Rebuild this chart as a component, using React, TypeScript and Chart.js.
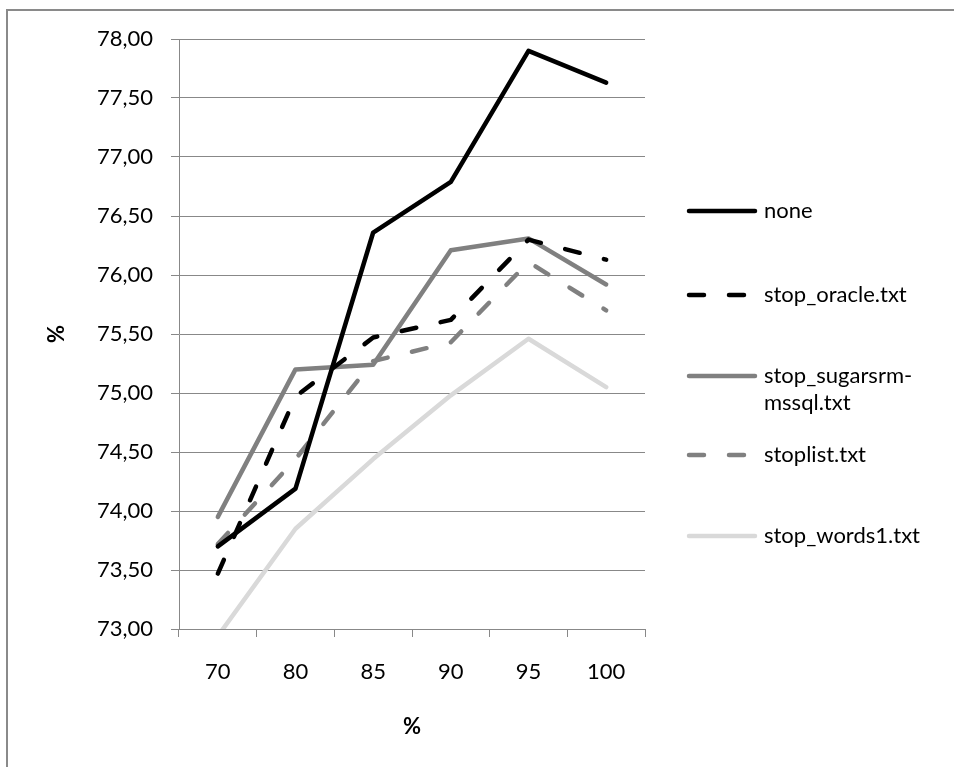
import React, { useEffect, useRef } from 'react';
import { Chart, registerables } from 'chart.js';

Chart.register(...registerables);

// ---- data ----
const categories = ['70', '80', '85', '90', '95', '100'];
const seriesNames = ['none', 'stop_oracle.txt', 'stop_sugarsrm-mssql.txt', 'stoplist.txt', 'stop_words1.txt'];
const noneValues = [73.70, 74.19, 76.36, 76.79, 77.90, 77.63];
const oracleValues = [73.47, 74.97, 75.47, 75.62, 76.30, 76.13];
const sugarsrmValues = [73.95, 75.20, 75.24, 76.21, 76.31, 75.92];
const stoplistValues = [73.72, 74.44, 75.27, 75.43, 76.11, 75.70];
const words1Values = [72.94, 73.85, 74.44, 74.98, 75.46, 75.05];
const yMin = 73;
const yMax = 78;
const yStep = 0.5;
const xAxisTitle = '%';
const yAxisTitle = '%';

const FONT = 'Lato, "Open Sans", sans-serif';
const GRID = '#888888';

function wrapText(ctx: CanvasRenderingContext2D, text: string, maxWidth: number): string[] {
  if (ctx.measureText(text).width <= maxWidth) return [text];
  const parts = text.split(/(?<=-)/);
  const lines: string[] = [];
  let cur = '';
  for (const p of parts) {
    if (cur && ctx.measureText(cur + p).width > maxWidth) {
      lines.push(cur);
      cur = p;
    } else {
      cur += p;
    }
  }
  if (cur) lines.push(cur);
  return lines;
}

export default function App() {
  const ref = useRef<HTMLCanvasElement>(null);

  useEffect(() => {
    if (!ref.current) return;
    const values = [noneValues, oracleValues, sugarsrmValues, stoplistValues, words1Values];
    const styles = [
      { color: '#000000', dash: [] as number[] },
      { color: '#000000', dash: [15, 25] },
      { color: '#808080', dash: [] as number[] },
      { color: '#808080', dash: [15, 25] },
      { color: '#d9d9d9', dash: [] as number[] },
    ];

    const sideLegend = {
      id: 'sideLegend',
      afterDraw(chart: any) {
        const ctx: CanvasRenderingContext2D = chart.ctx;
        const rowY = [211, 295, 376, 455, 536];
        const x0 = 689, x1 = 755, textX = 764;
        ctx.save();
        ctx.font = `22px ${FONT}`;
        ctx.textBaseline = 'middle';
        ctx.textAlign = 'left';
        chart.data.datasets.forEach((ds: any, i: number) => {
          const y = rowY[i];
          ctx.beginPath();
          ctx.setLineDash(ds.borderDash || []);
          ctx.lineCap = 'round';
          ctx.lineWidth = 4.5;
          ctx.strokeStyle = ds.borderColor;
          ctx.moveTo(x0, y);
          ctx.lineTo(x1, y);
          ctx.stroke();
          ctx.setLineDash([]);
          ctx.fillStyle = '#000000';
          const lines = wrapText(ctx, ds.label, 954 - textX - 2);
          lines.forEach((t, k) => ctx.fillText(t, textX, y + k * 27));
        });
        ctx.restore();
      },
    };

    const chart = new Chart(ref.current, {
      type: 'line',
      data: {
        labels: categories,
        datasets: seriesNames.map((name, i) => ({
          label: name,
          data: values[i],
          borderColor: styles[i].color,
          backgroundColor: styles[i].color,
          borderDash: styles[i].dash,
          borderWidth: 4.5,
          borderCapStyle: 'round',
          borderJoinStyle: 'round',
          pointRadius: 0,
          tension: 0,
          fill: false,
          clip: { left: 5, top: 5, right: 5, bottom: 0 },
        })),
      },
      options: {
        animation: false,
        responsive: false,
        maintainAspectRatio: false,
        layout: { padding: { left: 44, top: 39, right: 309, bottom: 27 } },
        plugins: {
          legend: { display: false },
          tooltip: { enabled: false },
        },
        scales: {
          x: {
            type: 'category',
            offset: true,
            grid: {
              display: true,
              offset: true,
              drawOnChartArea: false,
              drawTicks: true,
              tickLength: 8,
              color: GRID,
              lineWidth: 1,
            },
            border: { display: true, color: GRID, width: 1 },
            ticks: {
              color: '#000000',
              font: { family: FONT, size: 22 },
              padding: 22,
              maxRotation: 0,
              autoSkip: false,
            },
            title: {
              display: true,
              text: xAxisTitle,
              color: '#000000',
              font: { family: FONT, size: 22, weight: 'bold' },
              padding: 0,
            },
            afterFit: (s: any) => { s.height = 111; },
          },
          y: {
            min: yMin,
            max: yMax,
            ticks: {
              stepSize: yStep,
              callback: (v: any) => Number(v).toFixed(2).replace('.', ','),
              color: '#000000',
              font: { family: FONT, size: 22 },
              padding: 18,
            },
            grid: { color: GRID, lineWidth: 1, tickLength: 8, drawTicks: true },
            border: { display: true, color: GRID, width: 1 },
            title: {
              display: true,
              text: yAxisTitle,
              color: '#000000',
              font: { family: FONT, size: 22, weight: 'bold' },
              padding: 0,
            },
            afterFit: (s: any) => { s.width = 135; },
          },
        },
      } as any,
      plugins: [sideLegend],
    });
    return () => chart.destroy();
  }, []);

  return (
    <div style={{ position: 'fixed', left: 0, top: 0, width: 954, height: 767, background: '#ffffff', overflow: 'hidden' }}>
      <div
        style={{
          position: 'absolute',
          left: 6,
          top: 9,
          width: 1000,
          height: 800,
          borderTop: '2px solid #8a8a8a',
          borderLeft: '2px solid #8a8a8a',
        }}
      />
      <canvas ref={ref} width={954} height={767} style={{ position: 'absolute', left: 0, top: 0, width: 954, height: 767 }} />
    </div>
  );
}
